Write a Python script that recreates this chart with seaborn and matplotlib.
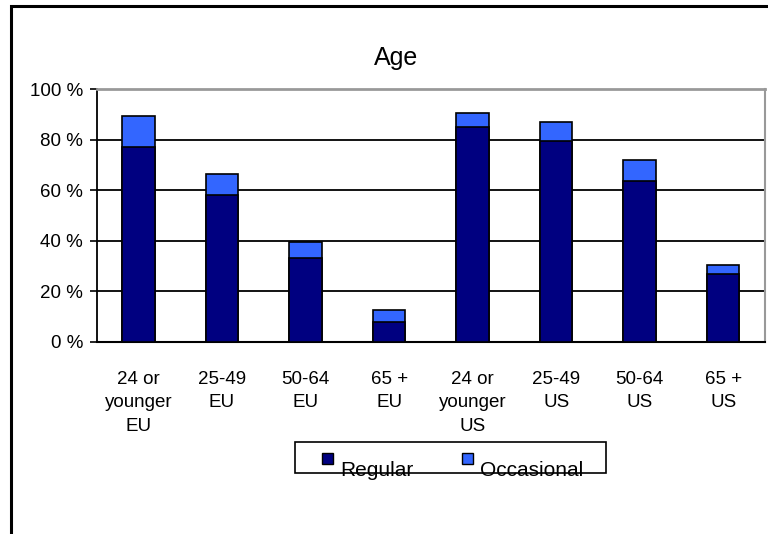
import matplotlib; matplotlib.use('Agg')
import pandas as pd
import numpy as np
import matplotlib.pyplot as plt
import seaborn as sns
from matplotlib.patches import Rectangle

# values (percent of respondents)
groups = ['24 or\nyounger\nEU', '25-49\nEU', '50-64\nEU', '65 +\nEU',
          '24 or\nyounger\nUS', '25-49\nUS', '50-64\nUS', '65 +\nUS']
regular = [77, 58, 33, 8, 85, 79.5, 63.5, 27]
occasional = [12.5, 8.5, 6.5, 4.5, 5.5, 7.5, 8.5, 3.5]
series = ['Regular', 'Occasional']

df = pd.DataFrame({'group': groups, 'Regular': regular, 'Occasional': occasional})
df['total'] = df['Regular'] + df['Occasional']

sns.set_style('white')
plt.rcParams['font.family'] = ['Liberation Sans', 'DejaVu Sans']
plt.rcParams['text.color'] = 'black'
plt.rcParams['xtick.color'] = 'black'
plt.rcParams['ytick.color'] = 'black'

fig = plt.figure(figsize=(7.68, 5.34), dpi=100)
ax = fig.add_axes([0.126, 0.36, 0.87, 0.473])

navy = '#000080'
blue = '#3366FF'

# stacked bars: total first, then regular over it
sns.barplot(data=df, x='group', y='total', color=blue, saturation=1,
            width=0.39, edgecolor='black', linewidth=1.2, ax=ax, zorder=3)
sns.barplot(data=df, x='group', y='Regular', color=navy, saturation=1,
            width=0.39, edgecolor='black', linewidth=1.2, ax=ax, zorder=4)

ax.set_ylim(0, 100)
ax.set_xlim(-0.5, len(groups) - 0.5)
ax.set_yticks(np.arange(0, 101, 20))
ax.set_yticklabels([f'{v} %' for v in range(0, 101, 20)], fontsize=13.5)
ax.set_xticks(np.arange(len(groups)))
ax.set_xticklabels(groups, fontsize=13.5, linespacing=1.5)
ax.set_xlabel('')
ax.set_ylabel('')

# minor ticks at category boundaries, labels centered without tick marks
ax.set_xticks(np.arange(-0.5, len(groups)), minor=True)
ax.tick_params(axis='x', which='major', length=0, pad=21)
ax.tick_params(axis='x', which='minor', length=5, width=1.2, direction='out')
ax.tick_params(axis='y', length=5, width=1.2, direction='out', pad=5, left=True)

for y in [20, 40, 60, 80]:
    ax.axhline(y, color='black', linewidth=1.3, zorder=1)

ax.spines['left'].set_color('black')
ax.spines['bottom'].set_color('black')
ax.spines['left'].set_linewidth(1.3)
ax.spines['bottom'].set_linewidth(1.5)
ax.spines['top'].set_color('#999999')
ax.spines['right'].set_color('#999999')
ax.spines['top'].set_linewidth(2)
ax.spines['right'].set_linewidth(1.5)

fig.text(0.5156, 0.878, 'Age', ha='center', va='baseline', fontsize=18)

# legend box drawn by hand to match the original layout
W, H = 768, 534
def fx(px):
    return px / W
def fy(py):
    return 1 - py / H

fig.patches.append(Rectangle((fx(295), fy(473)), fx(311), 31 / H,
                             transform=fig.transFigure, fill=False,
                             edgecolor='black', linewidth=1.2))
for name, col, hx in zip(series, [navy, blue], [322, 462]):
    fig.patches.append(Rectangle((fx(hx), fy(464)), fx(11), 11 / H,
                                 transform=fig.transFigure, facecolor=col,
                                 edgecolor='black', linewidth=1))
    fig.text(fx(hx + 18), fy(476), name, ha='left', va='baseline', fontsize=15)

# outer chart frame (left and top edges visible)
fig.patches.append(Rectangle((0.0143, -0.1), 1.2, 1.088, transform=fig.transFigure,
                             fill=False, edgecolor='black', linewidth=2.2))

plt.savefig('out.png', dpi=100)
plt.close()
